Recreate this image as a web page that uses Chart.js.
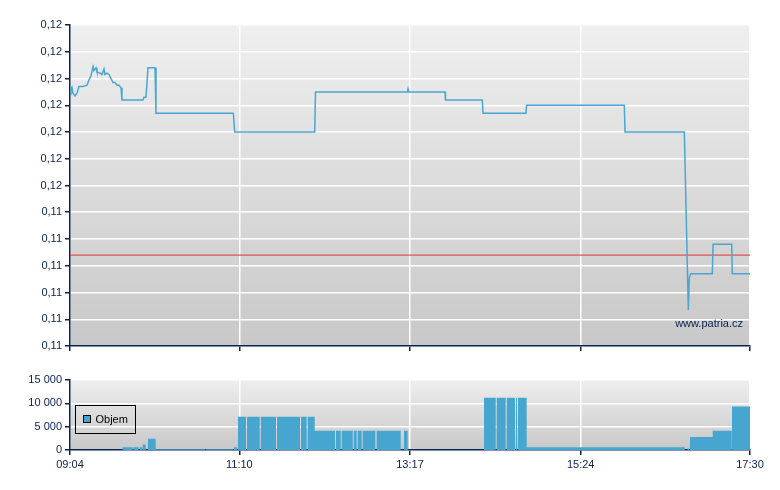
<!DOCTYPE html>
<html>
<head>
<meta charset="utf-8">
<script src="https://cdn.jsdelivr.net/npm/chart.js@4.4.1/dist/chart.umd.min.js"></script>
<style>
  body { margin: 0; background: #fff; }
  #wrap { position: relative; width: 780px; height: 490px; }
  canvas { position: absolute; left: 0; }
  #price { top: 0; width: 780px; height: 360px; }
  #volume { top: 360px; width: 780px; height: 130px; }
</style>
</head>
<body>
<div id="wrap">
  <canvas id="price" width="780" height="360"></canvas>
  <canvas id="volume" width="780" height="130"></canvas>
</div>
<script>
// osa X - casy obchodovani
const xTickLabels = ['09:04', '11:10', '13:17', '15:24', '17:30'];

// cena
const priceTimes = [
  '09:04:00', '09:04:44', '09:05:29', '09:06:14', '09:07:43', '09:09:13', '09:10:42', '09:11:26',
  '09:13:40', '09:16:39', '09:18:08', '09:19:38', '09:21:07', '09:21:52', '09:23:21', '09:24:05',
  '09:26:19', '09:27:49', '09:29:18', '09:30:02', '09:31:32', '09:33:01', '09:34:31', '09:36:00',
  '09:37:29', '09:38:58', '09:40:28', '09:41:57', '09:42:41', '09:58:19', '09:59:04', '10:00:33',
  '10:02:02', '10:07:15', '10:07:59', '11:05:31', '11:06:34', '12:06:05', '12:06:41', '13:15:09',
  '13:15:31', '13:15:53', '13:43:03', '13:43:25', '14:10:48', '14:11:20', '14:43:19', '14:43:42',
  '15:56:29', '15:57:00', '16:41:08', '16:44:06', '16:44:51', '16:45:53', '17:01:58', '17:02:29',
  '17:16:23', '17:16:50', '17:30:00'
];
const prices = [
  0.11584, 0.11581, 0.11583, 0.11579, 0.11577, 0.11579, 0.11584, 0.11584,
  0.11584, 0.11585, 0.11589, 0.11592, 0.11599, 0.11596, 0.11598, 0.11595,
  0.11594, 0.11593, 0.11597, 0.11593, 0.11594, 0.11593, 0.11590, 0.11587,
  0.11587, 0.11585, 0.11585, 0.11583, 0.11574, 0.11574, 0.11576, 0.11576,
  0.11598, 0.11598, 0.11564, 0.11564, 0.11550, 0.11550, 0.11580, 0.11580,
  0.11582, 0.11580, 0.11580, 0.11574, 0.11574, 0.11564, 0.11564, 0.11570,
  0.11570, 0.11550, 0.11550, 0.11417, 0.11441, 0.11444, 0.11444, 0.11466,
  0.11466, 0.11444, 0.11444
];
const prevClose = 0.11458;

// objem - bloky (od, do, objem)
const volStart = [
  '09:42:55', '09:51:06', '09:55:52', '09:58:06', '10:02:02', '10:07:46', '10:45:00', '11:06:02',
  '11:09:01', '11:15:43', '11:26:00', '11:38:02', '11:55:53', '12:00:53', '12:06:05', '12:21:56',
  '12:26:11', '12:35:07', '12:38:05', '12:41:48', '12:52:13', '13:12:32', '14:12:04', '14:21:31',
  '14:28:58', '14:35:53', '14:37:22', '14:43:50', '16:43:38', '16:45:21', '17:02:14', '17:16:37'
];
const volEnd = [
  '09:50:40', '09:55:07', '09:57:48', '10:00:20', '10:07:46', '10:44:28', '11:05:31', '11:08:29',
  '11:14:58', '11:25:13', '11:37:17', '11:55:09', '12:00:07', '12:06:05', '12:21:11', '12:25:26',
  '12:34:22', '12:37:20', '12:41:04', '12:51:11', '13:10:05', '13:15:17', '14:20:47', '14:28:13',
  '14:35:08', '14:36:37', '14:43:50', '16:41:25', '16:44:50', '17:02:14', '17:16:23', '17:30:00'
];
const volValues = [
  600, 600, 600, 1200, 2400, 150, 150, 600,
  7100, 7100, 7100, 7100, 7100, 7100, 4100, 4100,
  4100, 4100, 4100, 4100, 4100, 4100, 11200, 11200,
  11200, 11200, 11200, 600, 400, 2800, 4100, 9300
];

const toMin = s => {
  const p = s.split(':').map(Number);
  return p[0] * 60 + p[1] + (p[2] || 0) / 60;
};

const xTicks = xTickLabels.map(toMin);
const xMin = xTicks[0], xMax = xTicks[xTicks.length - 1];

const navy = '#0b2152';
Chart.defaults.font.family = '"Liberation Sans", Arial, sans-serif';
Chart.defaults.font.size = 11;
Chart.defaults.color = navy;

// pozadi grafu - prechod
const plotBg = {
  id: 'plotBg',
  beforeDraw(chart, args, opts) {
    const { ctx, chartArea: a } = chart;
    const g = ctx.createLinearGradient(0, a.top, 0, a.bottom);
    g.addColorStop(0, opts.top);
    g.addColorStop(1, opts.bottom);
    ctx.save();
    ctx.fillStyle = g;
    ctx.fillRect(a.left, a.top, a.right - a.left, a.bottom - a.top);
    ctx.restore();
  }
};

const watermark = {
  id: 'watermark',
  afterDraw(chart) {
    const { ctx, chartArea: a } = chart;
    ctx.save();
    ctx.font = '11px "Liberation Sans", Arial, sans-serif';
    ctx.fillStyle = navy;
    ctx.textAlign = 'right';
    ctx.textBaseline = 'middle';
    ctx.fillText('www.patria.cz', a.right - 7, a.bottom - 22);
    ctx.restore();
  }
};

// legenda v ramecku uvnitr grafu
const boxLegend = {
  id: 'boxLegend',
  afterDraw(chart) {
    const { ctx, chartArea: a } = chart;
    const ds = chart.data.datasets[0];
    const x = a.left + 5.5, y = a.top + 25.5;
    ctx.save();
    ctx.strokeStyle = '#000';
    ctx.lineWidth = 1;
    ctx.strokeRect(x, y, 60, 28);
    ctx.fillStyle = ds.backgroundColor;
    ctx.fillRect(x + 8, y + 10, 7, 7);
    ctx.strokeRect(x + 8, y + 10, 7, 7);
    ctx.fillStyle = '#000';
    ctx.font = '11px "Liberation Sans", Arial, sans-serif';
    ctx.textBaseline = 'middle';
    ctx.fillText(ds.label, x + 20, y + 14);
    ctx.restore();
  }
};

function xScale(showLabels) {
  return {
    type: 'linear',
    min: xMin,
    max: xMax,
    afterBuildTicks: s => { s.ticks = xTicks.map(v => ({ value: v })); },
    afterFit: s => { s.height = showLabels ? 40 : 14; },
    grid: { color: '#ffffff', lineWidth: 1.5, tickColor: navy, tickLength: 5 },
    border: { color: navy, width: 1.5 },
    ticks: {
      display: showLabels,
      maxRotation: 0,
      autoSkip: false,
      padding: 3,
      callback: (v, i) => xTickLabels[i]
    }
  };
}

const priceData = priceTimes.map((t, i) => ({ x: toMin(t), y: prices[i] }));

new Chart(document.getElementById('price'), {
  type: 'line',
  data: {
    datasets: [{
      label: 'Cena',
      data: priceData,
      borderColor: '#4aa6d1',
      borderWidth: 1.5,
      pointRadius: 0,
      tension: 0
    }, {
      label: 'Předchozí závěr',
      data: [{ x: xMin, y: prevClose }, { x: xMax, y: prevClose }],
      borderColor: 'rgba(225,60,60,0.85)',
      borderWidth: 1.2,
      pointRadius: 0
    }]
  },
  options: {
    responsive: false,
    animation: false,
    layout: { padding: { top: 25, right: 30, left: 0, bottom: 0 } },
    plugins: {
      legend: { display: false },
      tooltip: { enabled: false },
      plotBg: { top: '#efefef', bottom: '#c8c8c8' }
    },
    scales: {
      x: xScale(false),
      y: {
        min: 0.1139,
        max: 0.1163,
        afterFit: s => { s.width = 70; },
        grid: { color: '#ffffff', lineWidth: 1.5, tickColor: navy, tickLength: 5 },
        border: { color: navy, width: 1.5 },
        ticks: {
          stepSize: 0.0002,
          padding: 3,
          callback: v => v.toFixed(2).replace('.', ',')
        }
      }
    }
  },
  plugins: [plotBg, watermark]
});

// objem - schodovita plocha z bloku
const volData = [];
volStart.forEach((s, i) => {
  volData.push({ x: toMin(s), y: volValues[i] });
  const end = toMin(volEnd[i]);
  const next = i + 1 < volStart.length ? toMin(volStart[i + 1]) : null;
  if (next === null) volData.push({ x: end, y: volValues[i] });
  else if (next - end > 0.05) volData.push({ x: end, y: 0 });
});

new Chart(document.getElementById('volume'), {
  type: 'line',
  data: {
    datasets: [{
      label: 'Objem',
      data: volData,
      stepped: 'before',
      fill: 'origin',
      backgroundColor: '#46a6cf',
      borderWidth: 0,
      borderColor: 'rgba(0,0,0,0)',
      pointRadius: 0
    }]
  },
  options: {
    responsive: false,
    animation: false,
    layout: { padding: { top: 20, right: 30, left: 0, bottom: 0 } },
    plugins: {
      legend: { display: false },
      tooltip: { enabled: false },
      plotBg: { top: '#eeeeee', bottom: '#c8c8c8' }
    },
    scales: {
      x: xScale(true),
      y: {
        min: 0,
        max: 15000,
        afterFit: s => { s.width = 70; },
        grid: { color: '#ffffff', lineWidth: 1.5, tickColor: navy, tickLength: 5 },
        border: { color: navy, width: 1.5 },
        ticks: {
          stepSize: 5000,
          padding: 3,
          callback: v => v.toLocaleString('cs-CZ').replace(/\s/g, ' ')
        }
      }
    }
  },
  plugins: [plotBg, boxLegend]
});
</script>
</body>
</html>
